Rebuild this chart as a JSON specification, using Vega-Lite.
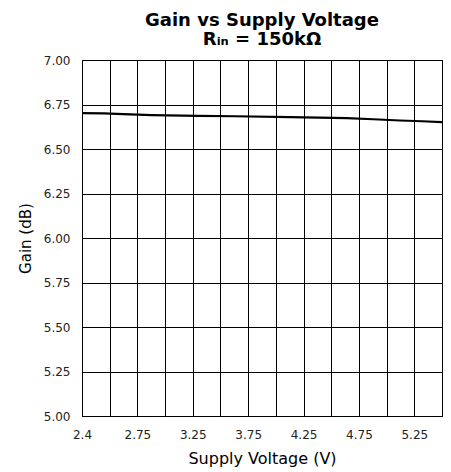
{
  "$schema": "https://vega.github.io/schema/vega-lite/v6.json",
  "width": 360,
  "height": 356,
  "autosize": "none",
  "padding": {"left": 82, "top": 60, "right": 9, "bottom": 56},
  "background": "white",
  "title": {
    "text": ["Gain vs Supply Voltage", "Rᵢₙ = 150kΩ"],
    "font": "DejaVu Sans",
    "fontSize": 18,
    "lineHeight": 19,
    "fontWeight": "bold",
    "color": "black",
    "anchor": "middle",
    "offset": 5
  },
  "config": {
    "view": {"stroke": "black", "strokeWidth": 1},
    "axis": {
      "labelFont": "DejaVu Sans",
      "labelFontSize": 12,
      "labelColor": "#222",
      "titleFont": "DejaVu Sans",
      "titleFontSize": 15,
      "titleFontWeight": "normal",
      "titleColor": "black",
      "gridColor": "black",
      "gridOpacity": 1,
      "gridWidth": 1,
      "domainColor": "black",
      "ticks": false
    }
  },
  "data": {
    "values": [
      {"v": 2.25, "gain": 6.701},
      {"v": 2.45, "gain": 6.700},
      {"v": 2.62, "gain": 6.696},
      {"v": 2.88, "gain": 6.690},
      {"v": 3.3, "gain": 6.686},
      {"v": 3.63, "gain": 6.684},
      {"v": 4.13, "gain": 6.679},
      {"v": 4.64, "gain": 6.673},
      {"v": 4.88, "gain": 6.667},
      {"v": 5.12, "gain": 6.660},
      {"v": 5.32, "gain": 6.656},
      {"v": 5.5, "gain": 6.651}
    ]
  },
  "mark": {"type": "line", "color": "black", "strokeWidth": 2.2},
  "encoding": {
    "x": {
      "field": "v",
      "type": "quantitative",
      "scale": {"domain": [2.25, 5.5], "nice": false, "zero": false},
      "axis": {
        "title": "Supply Voltage (V)",
        "titleFontSize": 16,
        "values": [2.25, 2.5, 2.75, 3.0, 3.25, 3.5, 3.75, 4.0, 4.25, 4.5, 4.75, 5.0, 5.25, 5.5],
        "labelExpr": "datum.value == 2.25 ? '2.4' : ((datum.value * 4) % 2 == 1 ? format(datum.value, '.2f') : '')",
        "labelPadding": 13,
        "titlePadding": 10,
        "labelFlush": false,
        "labelOverlap": false
      }
    },
    "y": {
      "field": "gain",
      "type": "quantitative",
      "scale": {"domain": [5, 7], "nice": false, "zero": false},
      "axis": {
        "title": "Gain (dB)",
        "values": [5, 5.25, 5.5, 5.75, 6, 6.25, 6.5, 6.75, 7],
        "format": ".2f",
        "labelPadding": 12,
        "titlePadding": 10,
        "labelFlush": false
      }
    }
  }
}
